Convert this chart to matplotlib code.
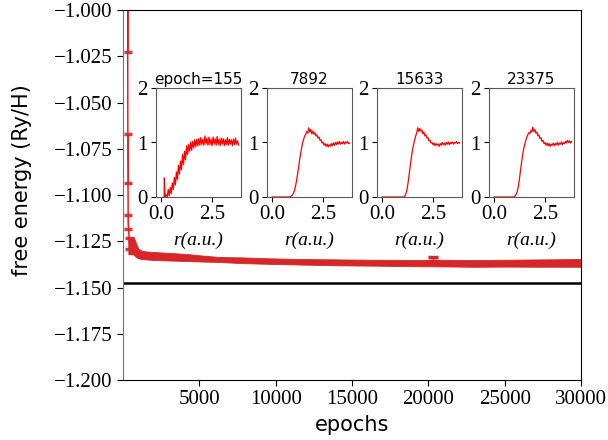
import numpy as np
import matplotlib
matplotlib.use("Agg")
import matplotlib.pyplot as plt
from matplotlib.ticker import FuncFormatter

plt.rcParams['font.family'] = ['DejaVu Sans']
SERIF = ['Liberation Serif', 'DejaVu Serif']

# ---------------- data ----------------
# early training (thin line + error bars)
ep_early = [160, 300, 320, 340, 420]
val_early = [-0.900, -0.960, -1.0802, -1.1146, -1.1260]
err_early = [0.0, 0.0627, 0.0132, 0.0038, 0.0030]

# isolated outlier error bar
ep_out = [20300]
val_out = [-1.1347]
err_out = [0.0012]

# dense error-bar band (upper / lower envelopes)
ep_band = [350, 700, 850, 1000, 1200, 1500, 2000, 3000, 4200, 5300, 6300, 7700,
           9500, 11600, 14000, 16500, 19000, 21000, 23000, 25000, 27500, 30000]
band_upper = [-1.1227, -1.1227, -1.1260, -1.1290, -1.1300, -1.1305, -1.1308,
              -1.1313, -1.1319, -1.1328, -1.1335, -1.1337, -1.1342, -1.1346,
              -1.1348, -1.1350, -1.1351, -1.1350, -1.1352, -1.1350, -1.1348, -1.1346]
band_lower = [-1.1320, -1.1322, -1.1335, -1.1342, -1.1346, -1.1348, -1.1351,
              -1.1354, -1.1357, -1.1360, -1.1362, -1.1368, -1.1372, -1.1376,
              -1.1380, -1.1382, -1.1385, -1.1386, -1.1388, -1.1387, -1.1388, -1.1388]

exact_energy = -1.1476

# insets: radial distribution functions
inset_titles = ["epoch=155", "7892", "15633", "23375"]

r1 = [0.15, 0.16, 0.20, 0.25, 0.30, 0.35, 0.40, 0.45, 0.50, 0.55, 0.60, 0.65, 0.70,
      0.75, 0.80, 0.85, 0.90, 0.95, 1.00, 1.05, 1.10, 1.15, 1.20, 1.25, 1.30,
      1.35, 1.40, 1.45, 1.50, 1.55, 1.60, 1.65, 1.70, 1.75, 1.80, 1.85, 1.90,
      1.95, 2.00, 2.05, 2.10, 2.15, 2.20, 2.25, 2.30, 2.35, 2.40, 2.45, 2.50,
      2.55, 2.60, 2.65, 2.70, 2.75, 2.80, 2.85, 2.90, 2.95, 3.00, 3.05, 3.10,
      3.15, 3.20, 3.25, 3.30, 3.35, 3.40, 3.45, 3.50, 3.55, 3.60, 3.65, 3.70,
      3.75, 3.80]
g1 = [0.00, 0.35, 0.00, 0.04, 0.00, 0.14, 0.02, 0.18, 0.06, 0.26, 0.14, 0.36, 0.22,
      0.46, 0.32, 0.58, 0.42, 0.66, 0.50, 0.78, 0.60, 0.84, 0.68, 0.94, 0.78,
      0.96, 0.84, 1.01, 0.86, 1.02, 0.90, 1.05, 0.92, 1.06, 0.94, 1.07, 0.95,
      1.09, 0.96, 1.06, 0.95, 1.12, 0.97, 1.08, 0.95, 1.10, 0.96, 1.06, 0.94,
      1.10, 0.97, 1.07, 0.95, 1.11, 0.96, 1.06, 0.94, 1.08, 0.97, 1.07, 0.94,
      1.05, 0.96, 1.09, 0.95, 1.06, 0.97, 1.05, 0.94, 1.06, 0.96, 1.08, 0.97,
      1.03, 0.95]

r_grid = [0.00, 0.05, 0.10, 0.15, 0.20, 0.25, 0.30, 0.35, 0.40, 0.45, 0.50, 0.55,
          0.60, 0.65, 0.70, 0.75, 0.80, 0.85, 0.90, 0.95, 1.00, 1.05, 1.10, 1.15,
          1.20, 1.25, 1.30, 1.35, 1.40, 1.45, 1.50, 1.55, 1.60, 1.65, 1.70, 1.75,
          1.80, 1.85, 1.90, 1.95, 2.00, 2.05, 2.10, 2.15, 2.20, 2.25, 2.30, 2.35,
          2.40, 2.45, 2.50, 2.55, 2.60, 2.65, 2.70, 2.75, 2.80, 2.85, 2.90, 2.95,
          3.00, 3.05, 3.10, 3.15, 3.20, 3.25, 3.30, 3.35, 3.40, 3.45, 3.50, 3.55,
          3.60, 3.65, 3.70, 3.75, 3.80]
g2 = [0]*18 + [0.01, 0.02, 0.04, 0.07, 0.12, 0.20, 0.30, 0.42, 0.55, 0.68, 0.80,
      0.90, 1.00, 1.06, 1.12, 1.15, 1.20, 1.17, 1.27, 1.19, 1.24, 1.16, 1.21,
      1.15, 1.18, 1.12, 1.14, 1.08, 1.10, 1.04, 1.05, 0.99, 1.01, 0.95, 0.98,
      0.93, 0.97, 0.92, 0.96, 0.93, 0.98, 0.94, 0.99, 0.95, 1.00, 0.96, 1.01,
      0.97, 1.02, 0.97, 1.00, 0.98, 1.02, 0.97, 1.01, 0.99, 1.02, 0.98, 0.99]
g3 = [0]*22 + [0.01, 0.04, 0.10, 0.20, 0.33, 0.48, 0.62, 0.76, 0.88, 0.97, 1.05,
      1.12, 1.18, 1.27, 1.20, 1.26, 1.21, 1.23, 1.16, 1.19, 1.12, 1.14,
      1.08, 1.09, 1.03, 1.04, 0.99, 1.00, 0.96, 0.99, 0.94, 0.98, 0.95,
      0.97, 0.93, 0.98, 0.95, 1.00, 0.96, 0.99, 0.95, 1.00, 0.97, 1.01,
      0.96, 1.00, 0.98, 1.01, 0.97, 1.00, 0.99, 1.02, 0.98, 1.00, 0.99]
g4 = [0]*20 + [0.01, 0.03, 0.06, 0.12, 0.22, 0.35, 0.50, 0.64, 0.77, 0.88, 0.96,
      1.03, 1.09, 1.14, 1.18, 1.16, 1.22, 1.19, 1.28, 1.20, 1.24, 1.17,
      1.19, 1.12, 1.14, 1.07, 1.09, 1.02, 1.04, 0.98, 1.00, 0.95, 0.99,
      0.94, 0.98, 0.93, 0.97, 0.95, 0.99, 0.94, 0.98, 0.96, 1.00, 0.95,
      0.99, 0.97, 1.01, 0.96, 1.00, 0.98, 1.02, 0.99, 1.04, 1.00, 1.03,
      0.99, 1.02]
g_curves = [(r1, g1), (r_grid, g2), (r_grid, g3), (r_grid, g4)]

# ---------------- figure ----------------
W, H = 608, 440
fig = plt.figure(figsize=(W / 100, H / 100), dpi=100)

def px_axes(left, top, right, bottom):
    return fig.add_axes([left / W, 1 - bottom / H, (right - left) / W, (bottom - top) / H])

def serif_ticks(a):
    for lab in a.get_xticklabels() + a.get_yticklabels():
        lab.set_fontfamily(SERIF)

ax = px_axes(123, 10, 581, 380)
red = '#d62728'

ax.fill_between(ep_band, band_lower, band_upper, color=red, lw=0.6, edgecolor=red)
ax.plot(ep_early, val_early, color='red', lw=1.0)
ax.errorbar(ep_early[1:], val_early[1:], yerr=err_early[1:], fmt='none',
            ecolor=red, elinewidth=1.0, capsize=3.2, capthick=2.5, alpha=0.9)
ax.errorbar(ep_out, val_out, yerr=err_out, fmt='none',
            ecolor=red, elinewidth=1.0, capsize=3.6, capthick=2.5)
ax.axhline(exact_energy, color='black', lw=1.8)

ax.set_xlim(0, 30000)
ax.set_ylim(-1.2, -1.0)
ax.set_xticks([5000, 10000, 15000, 20000, 25000, 30000])
ax.set_yticks([-1.2, -1.175, -1.15, -1.125, -1.1, -1.075, -1.05, -1.025, -1.0])
ax.xaxis.set_major_formatter(FuncFormatter(lambda v, p: f'{int(v)}'))
ax.yaxis.set_major_formatter(FuncFormatter(lambda v, p: f'{v:.3f}'.replace('-', '\u2212')))
ax.tick_params(labelsize=15, direction='out', length=4)
ax.spines['left'].set_color('0.45')
ax.set_xlabel('epochs', fontsize=15)
ax.set_ylabel('free energy (Ry/H)', fontsize=15)
ax.yaxis.set_label_coords(-0.199, 0.54)

inset_axes = []
inset_lefts = [156, 267, 377, 489]
for left, title, (rr, gg) in zip(inset_lefts, inset_titles, g_curves):
    n = min(len(rr), len(gg))
    ia = px_axes(left, 88, left + 85, 197)
    ia.plot(rr[:n], gg[:n], color='red', lw=0.9)
    ia.set_xlim(-0.25, 3.92)
    ia.set_ylim(0, 2)
    ia.set_xticks([0.0, 2.5])
    ia.set_yticks([0, 1, 2])
    ia.xaxis.set_major_formatter(FuncFormatter(lambda v, p: f'{v:.1f}'))
    ia.yaxis.set_major_formatter(FuncFormatter(lambda v, p: f'{int(v)}'))
    ia.tick_params(labelsize=15, direction='out', length=3.5, pad=2.5)
    for s in ia.spines.values():
        s.set_color('0.35')
    ia.set_title(title, fontsize=11, pad=3)
    ia.set_xlabel('r(a.u.)', fontsize=14, labelpad=5, fontfamily=SERIF,
                  fontstyle='italic')
    inset_axes.append(ia)

for a in [ax] + inset_axes:
    serif_ticks(a)

fig.savefig('out.png', dpi=100)
